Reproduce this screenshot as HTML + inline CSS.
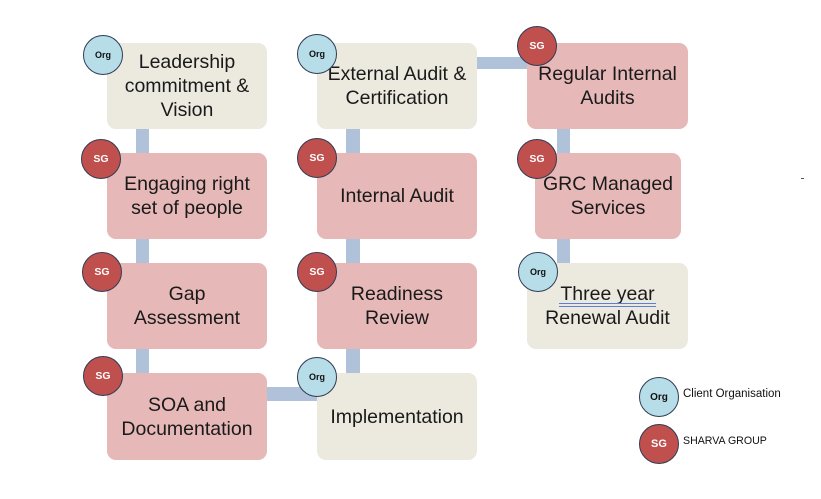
<!DOCTYPE html>
<html><head><meta charset="utf-8"><style>
html,body{margin:0;padding:0;background:#fff;}
body{width:821px;height:499px;position:relative;overflow:hidden;font-family:"Liberation Sans",sans-serif;}
.b{position:absolute;border-radius:9px;display:flex;align-items:center;justify-content:center;text-align:center;font-size:19.5px;line-height:24px;color:#1a1a1a;}
.be{background:#ECEADF;}
.bp{background:#E6B8B7;}
.c{position:absolute;background:#B0C1DA;}
.o{position:absolute;width:38px;height:38px;border-radius:50%;border:1px solid #2E3B55;display:flex;align-items:center;justify-content:center;font-weight:bold;font-size:9px;}
.org{background:#B7DDE8;color:#111;}
.sg{background:#C0504D;color:#fff;font-size:10.5px;}
.lt{position:absolute;font-size:11.5px;color:#111;white-space:nowrap;}
</style></head><body>
<!-- connectors -->
<div class="c" style="left:136px;top:129px;width:13px;height:24px"></div>
<div class="c" style="left:136px;top:239px;width:13px;height:24px"></div>
<div class="c" style="left:136px;top:349px;width:13px;height:24px"></div>
<div class="c" style="left:346px;top:129px;width:14px;height:24px"></div>
<div class="c" style="left:346px;top:239px;width:14px;height:24px"></div>
<div class="c" style="left:346px;top:349px;width:14px;height:24px"></div>
<div class="c" style="left:557px;top:129px;width:13px;height:24px"></div>
<div class="c" style="left:557px;top:239px;width:13px;height:24px"></div>
<div class="c" style="left:267px;top:387px;width:50px;height:14px"></div>
<div class="c" style="left:477px;top:57px;width:50px;height:12px"></div>

<!-- column 1 -->
<div class="b be" style="left:107px;top:43px;width:160px;height:86px"><div>Leadership<br>commitment &amp;<br>Vision</div></div>
<div class="b bp" style="left:107px;top:153px;width:160px;height:86px"><div>Engaging right<br>set of people</div></div>
<div class="b bp" style="left:107px;top:263px;width:160px;height:86px"><div>Gap<br>Assessment</div></div>
<div class="b bp" style="left:107px;top:373px;width:160px;height:87px"><div>SOA and<br>Documentation</div></div>

<!-- column 2 -->
<div class="b be" style="left:317px;top:43px;width:160px;height:86px"><div>External Audit &amp;<br>Certification</div></div>
<div class="b bp" style="left:317px;top:153px;width:160px;height:86px"><div>Internal Audit</div></div>
<div class="b bp" style="left:317px;top:263px;width:160px;height:86px"><div>Readiness<br>Review</div></div>
<div class="b be" style="left:317px;top:373px;width:160px;height:87px"><div>Implementation</div></div>

<!-- column 3 -->
<div class="b bp" style="left:527px;top:43px;width:161px;height:86px"><div>Regular Internal<br>Audits</div></div>
<div class="b bp" style="left:535px;top:153px;width:146px;height:86px"><div>GRC Managed<br>Services</div></div>
<div class="b be" style="left:527px;top:263px;width:161px;height:86px"><div><span style="position:relative;display:inline-block">Three year<span style="position:absolute;left:-1px;right:-1px;top:21px;height:1px;background:#5B7FD6"></span><span style="position:absolute;left:-1px;right:-1px;top:24px;height:1px;background:#5B7FD6"></span></span><br>Renewal Audit</div></div>

<!-- circles -->
<div class="o org" style="left:83px;top:35px">Org</div>
<div class="o sg" style="left:81px;top:139px">SG</div>
<div class="o sg" style="left:82px;top:252px">SG</div>
<div class="o sg" style="left:83px;top:356px">SG</div>

<div class="o org" style="left:297px;top:34px">Org</div>
<div class="o sg" style="left:297px;top:138px">SG</div>
<div class="o sg" style="left:297px;top:252px">SG</div>
<div class="o org" style="left:297px;top:357px">Org</div>

<div class="o sg" style="left:517px;top:26px">SG</div>
<div class="o sg" style="left:517px;top:139px">SG</div>
<div class="o org" style="left:518px;top:252px">Org</div>

<!-- legend -->
<div class="o org" style="left:639px;top:377px;font-size:10px">Org</div>
<div class="o sg" style="left:639px;top:424px;font-size:11px">SG</div>
<div class="lt" style="left:683px;top:388px">Client Organisation</div>
<div class="lt" style="left:683px;top:435px;font-size:10.6px">SHARVA GROUP</div>

<div style="position:absolute;left:801px;top:178px;width:3px;height:1px;background:#555"></div>
</body></html>
